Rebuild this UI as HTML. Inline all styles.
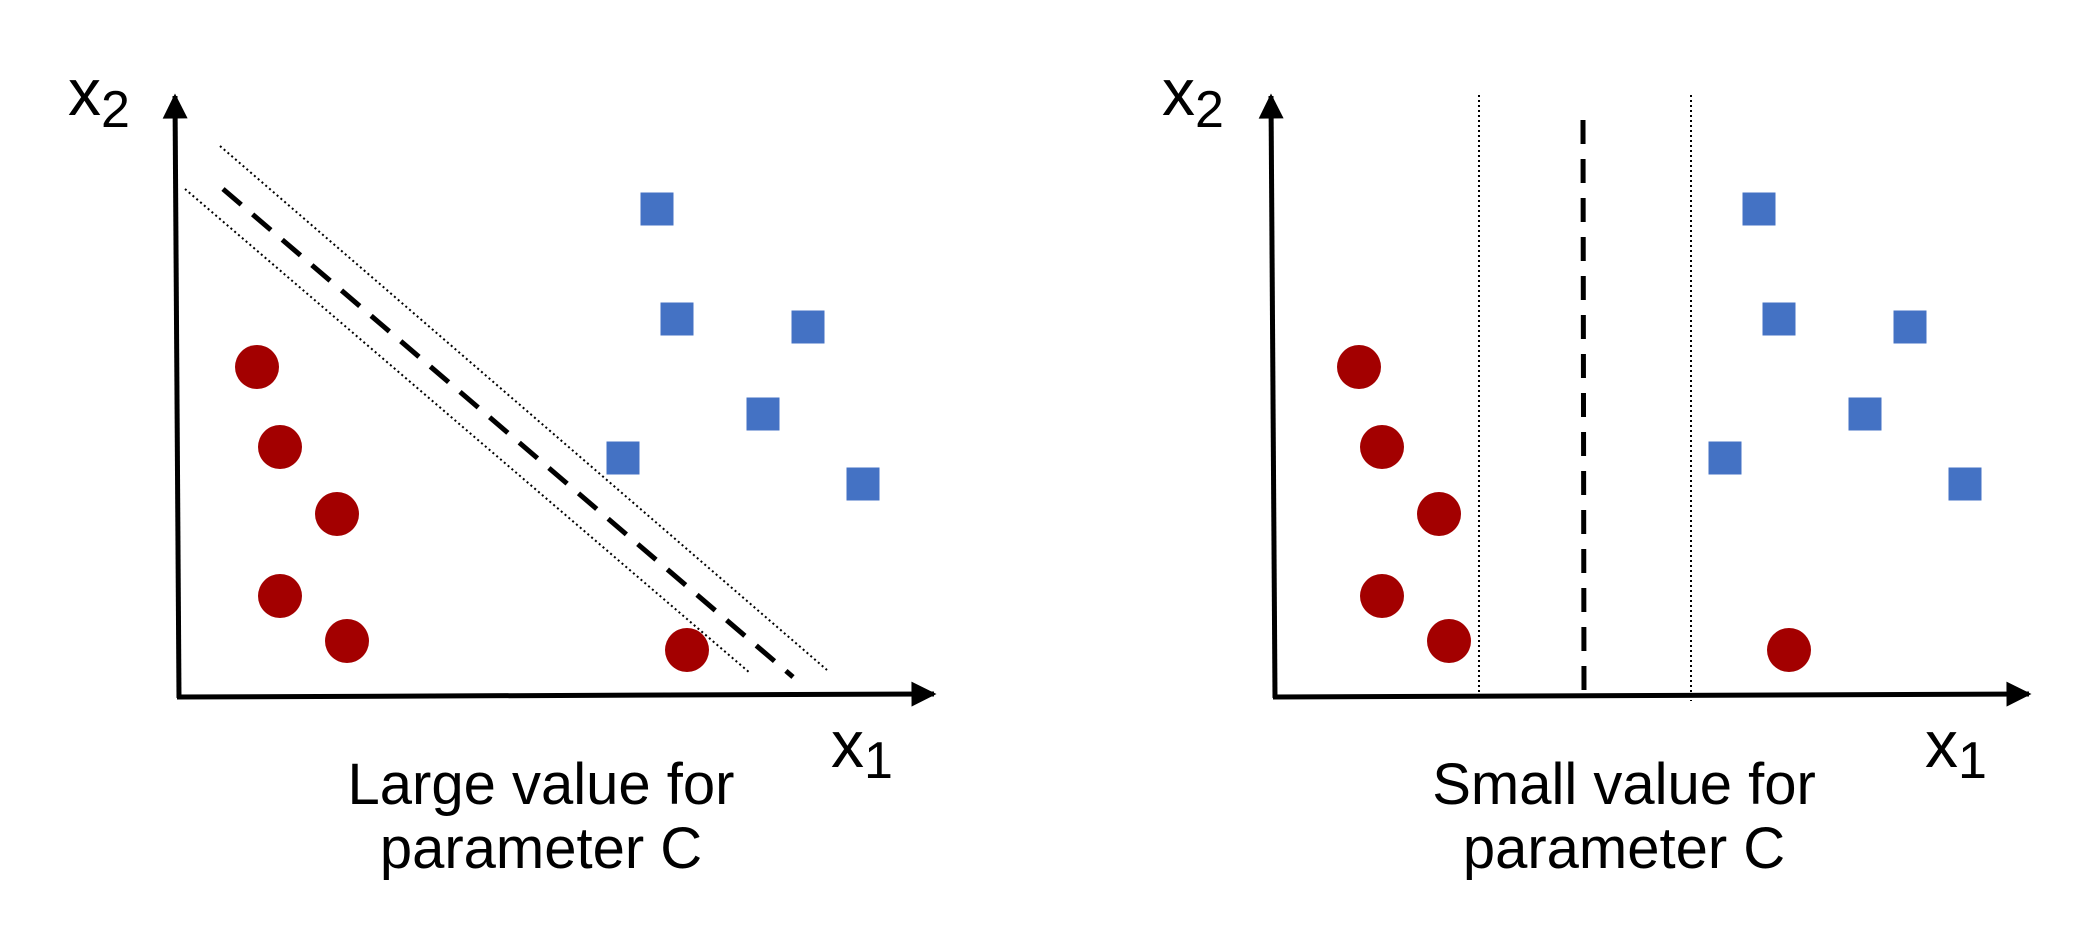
<!DOCTYPE html>
<html><head><meta charset="utf-8"><style>
html,body{margin:0;padding:0;background:#fff;}
svg{display:block;}
text{font-family:"Liberation Sans",Arial,sans-serif;fill:#000;}
</style></head><body>
<svg id="chart" width="2093" height="942" viewBox="0 0 2093 942" xmlns="http://www.w3.org/2000/svg">
<defs><marker id="ah" viewBox="0 0 10 10" refX="9" refY="5" markerWidth="5.5" markerHeight="5" orient="auto" markerUnits="strokeWidth"><path d="M0,0 L10,5 L0,10 z" fill="#000"/></marker></defs>
</svg>
<script>
// Panel data (pixel-space estimates)
const panelNames = ['large-c', 'small-c'];
const panelOffsets = [0, 1096];
const circleX = [257, 280, 337, 280, 347, 687];
const circleY = [367, 447, 514, 596, 641, 650];
const squareX = [657, 677, 808, 763, 623, 863];
const squareY = [209, 319, 327, 414, 458, 484];
const captions = [['Large value for', 'parameter C'], ['Small value for', 'parameter C']];

const svg = document.getElementById('chart');
const NS = 'http://www.w3.org/2000/svg';
function mk(tag, attrs) { const e = document.createElementNS(NS, tag); for (const k in attrs) e.setAttribute(k, attrs[k]); svg.appendChild(e); return e; }

panelNames.forEach((p, i) => {
  const ax = i === 0 ? 177 : 1273;
  const ya = mk('line', {x1: ax + 2, y1: 698, x2: ax - 2, y2: 96, stroke: '#000', 'stroke-width': 5, 'marker-end': 'url(#ah)'});
  
  
  const xa = mk('line', {x1: ax, y1: 697, x2: i === 0 ? 934 : 2029, y2: 694, stroke: '#000', 'stroke-width': 5, 'marker-end': 'url(#ah)'});
  
  
  const lx0 = i === 0 ? 68 : 1162;
  const t2 = mk('text', {x: lx0, y: 115, 'font-size': 66});
  t2.innerHTML = 'x<tspan font-size="52" dy="12">2</tspan>';
  
  
  const lx1 = i === 0 ? 831 : 1925;
  const t1 = mk('text', {x: lx1, y: 767, 'font-size': 66});
  t1.innerHTML = 'x<tspan font-size="52" dy="11">1</tspan>';
  
  
  if (i === 0) {
    const d = mk('line', {x1: 223, y1: 189, x2: 793, y2: 677, stroke: '#000', 'stroke-width': 5, 'stroke-dasharray': '24 15'});
     
    const m1 = mk('line', {x1: 220, y1: 146, x2: 827, y2: 670, stroke: '#000', 'stroke-width': 2, 'stroke-dasharray': '2 3'});
     
    const m2 = mk('line', {x1: 185, y1: 189, x2: 750, y2: 673, stroke: '#000', 'stroke-width': 2, 'stroke-dasharray': '2 3'});
     
  } else {
    const d = mk('line', {x1: 1583, y1: 120, x2: 1584, y2: 696, stroke: '#000', 'stroke-width': 5, 'stroke-dasharray': '24 15'});
     
    const m1 = mk('line', {x1: 1479, y1: 95, x2: 1479, y2: 696, stroke: '#000', 'stroke-width': 2, 'stroke-dasharray': '2 3'});
     
    const m2 = mk('line', {x1: 1691, y1: 95, x2: 1691, y2: 701, stroke: '#000', 'stroke-width': 2, 'stroke-dasharray': '2 3'});
     
  }
  const cx = i === 0 ? circleX : circleX.map(v => v + 1102);
  const sx = i === 0 ? squareX : squareX.map(v => v + 1102);
  cx.forEach((x, j) => {
    const c = mk('ellipse', {cx: x, cy: circleY[j], rx: 22, ry: 22, fill: '#A30000'});
    
    
  });
  sx.forEach((x, j) => {
    const s = mk('rect', {x: x - 16.5, y: squareY[j] - 16.5, width: 33, height: 33, fill: '#4472C4'});
    
    
  });
  const cxm = i === 0 ? 541 : 1624;
  captions[i].forEach((line, k) => {
    const t = mk('text', {x: cxm, y: k === 0 ? 804 : 868, 'font-size': 58, 'text-anchor': 'middle'});
    t.textContent = line;
    
    
  });
});
</script>
</body></html>
